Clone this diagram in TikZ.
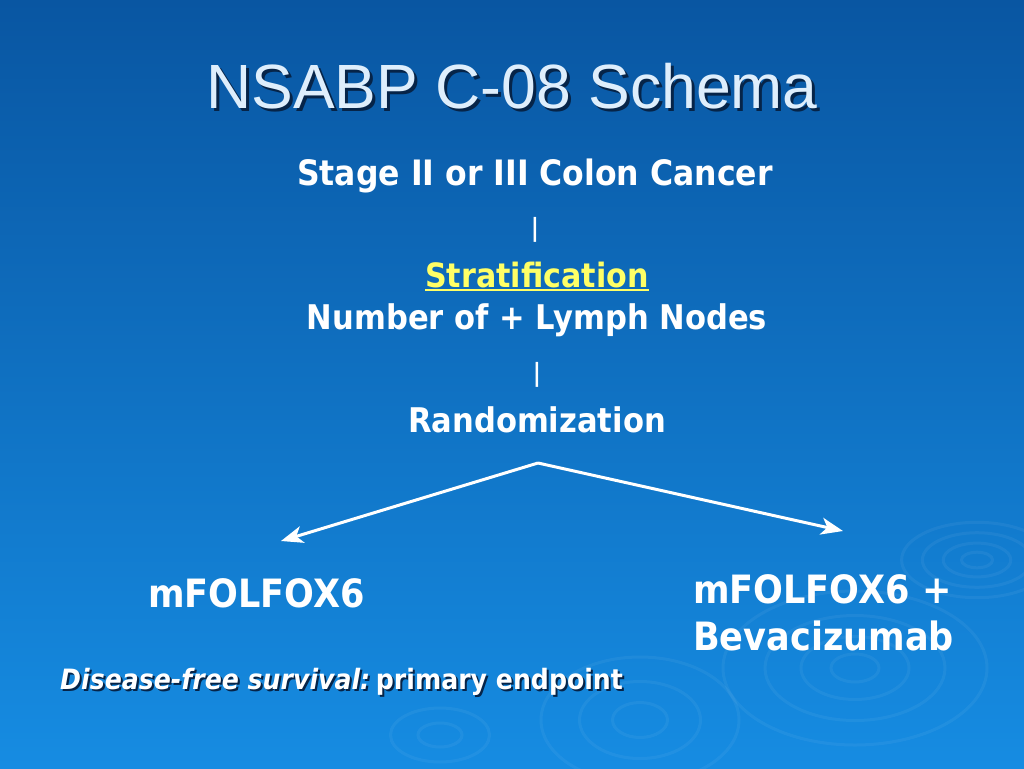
\documentclass[tikz,border=0pt]{standalone}
\usepackage{fontspec}
\setmainfont{Liberation Sans}
\newfontfamily\bodyfont[FakeStretch=0.9]{DejaVu Sans}
\usetikzlibrary{arrows.meta,positioning}

\definecolor{slidetop}{RGB}{9,86,162}
\definecolor{slidebot}{RGB}{22,140,226}
\definecolor{titlefg}{RGB}{222,238,252}
\definecolor{shade}{RGB}{6,36,72}
\definecolor{stratyellow}{RGB}{255,255,102}

\newcommand{\shadowed}[2][2pt]{\makebox[0pt][l]{\hspace{#1}\raisebox{-#1}{\color{shade}#2}}#2}

\tikzset{
  label/.style={inner sep=0pt, text=white, anchor=base, font=\bodyfont\bfseries\fontsize{34}{40}\selectfont},
  arm/.style={label, anchor=base west, align=left, font=\bodyfont\bfseries\fontsize{39}{47}\selectfont},
  bar/.style={inner sep=0pt, text=white, font=\bodyfont\bfseries\fontsize{25}{25}\selectfont},
  ripple/.style={draw=white, draw opacity=0.05, line width=3pt}
}

\begin{document}
\begin{tikzpicture}[x=1pt,y=-1pt,>={Stealth[length=22pt,width=17pt,inset=6pt]}]
  \useasboundingbox (0,0) rectangle (1024,768);
  \shade[top color=slidetop, bottom color=slidebot] (0,0) rectangle (1024,768);

  % background ripples
  \foreach \r in {12,26,42,58}
    \draw[ripple] (977,560) ellipse ({\r*1.3} and {\r*0.65});
  \foreach \r in {20,45,75,110}
    \draw[ripple] (855,668) ellipse ({\r*1.2} and {\r*0.7});
  \foreach \r in {25,55,90}
    \draw[ripple] (640,720) ellipse ({\r*1.1} and {\r*0.7});
  \foreach \r in {20,45}
    \draw[ripple] (440,735) ellipse ({\r*1.1} and {\r*0.6});

  % title
  \node[inner sep=0pt, anchor=base, text=titlefg, font=\fontsize{62.5}{70}\selectfont]
       (title) at (512,108) {\shadowed[3pt]{NSABP C-08 Schema}};

  % schema
  \node[label, font=\bodyfont\bfseries\fontsize{35}{40}\selectfont] (stage) at (535,185) {Stage II or III Colon Cancer};
  \node[bar] (bar1) at (535,230) {|};
  \node[label, text=stratyellow, font=\bodyfont\bfseries\fontsize{33.5}{40}\selectfont] (strat) at (537,287) {Stratification};
  \draw[stratyellow, line width=2.5pt] ([yshift=-3pt]strat.base west) -- ([yshift=-3pt]strat.base east);
  \node[label] (nodes) at (537,329) {Number of + Lymph Nodes};
  \node[bar] (bar2) at (537,375) {|};
  \node[label] (rand) at (537,432) {Randomization};

  \coordinate (split) at (538,463);
  \coordinate (lefttip) at (281,541);
  \coordinate (righttip) at (843,531);
  \draw[->, white, line width=3pt] (split) -- (lefttip);
  \draw[->, white, line width=3pt] (split) -- (righttip);

  \node[arm] (armA) at (148,607) {mFOLFOX6};
  \node[arm] (armB) at (693,603) {mFOLFOX6 +};
  \node[arm] (armB2) at (693,650) {Bevacizumab};

  \node[label, anchor=base west, font=\bodyfont\bfseries\fontsize{28}{32}\selectfont] (endpoint) at (60,689)
       {\shadowed{\textit{Disease-free survival:}}\hspace{0.2em}\shadowed{primary endpoint}};
\end{tikzpicture}
\end{document}
